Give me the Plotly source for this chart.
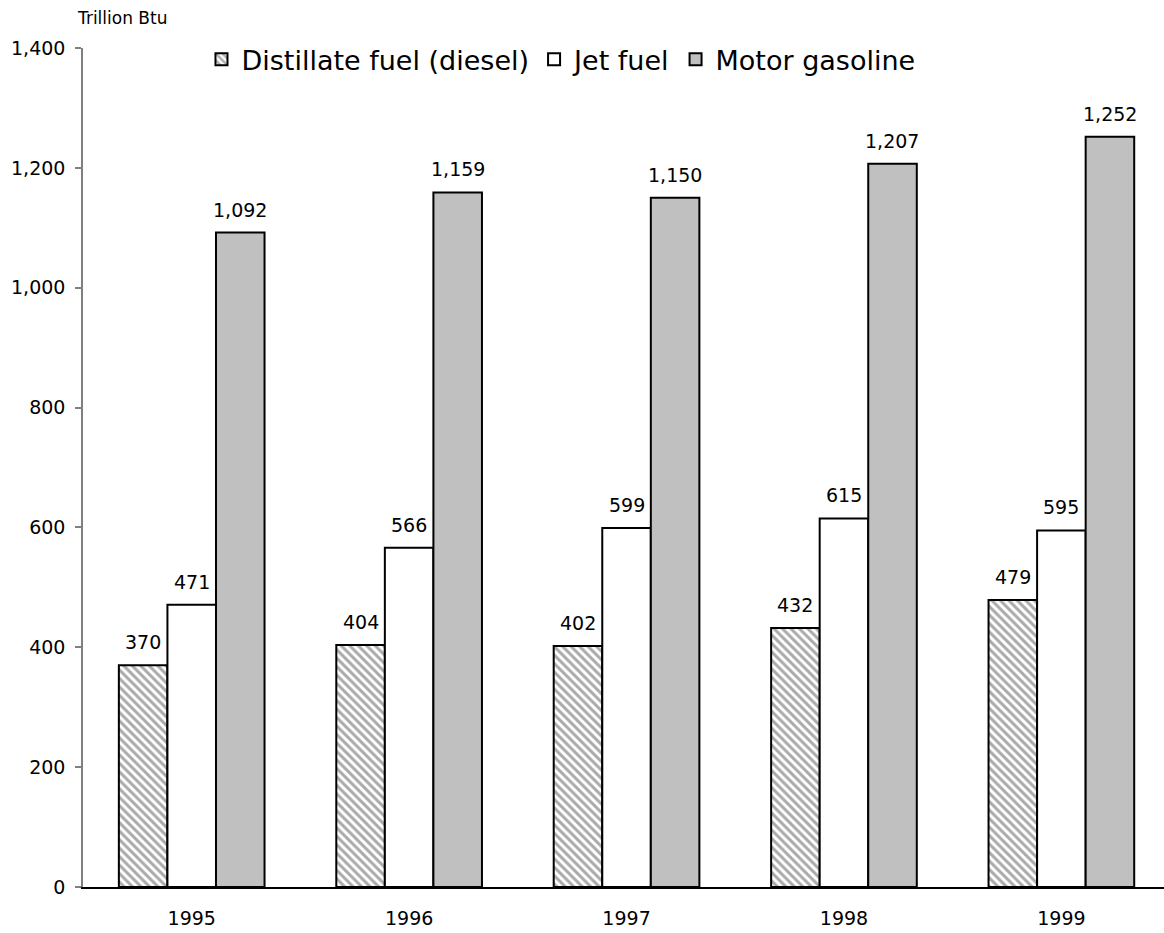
import plotly.graph_objects as go

years = ["1995", "1996", "1997", "1998", "1999"]
diesel = [370, 404, 402, 432, 479]
jet = [471, 566, 599, 615, 595]
gasoline = [1092, 1159, 1150, 1207, 1252]
series_names = ["Distillate fuel (diesel)", "Jet fuel", "Motor gasoline"]
y_ticks = [0, 200, 400, 600, 800, 1000, 1200, 1400]
y_tick_labels = ["0", "200", "400", "600", "800", "1,000", "1,200", "1,400"]

FONT = "DejaVu Sans, Verdana, sans-serif"
label_font = dict(family=FONT, size=19, color="#000000")

fig = go.Figure()
fig.add_trace(go.Bar(
    x=years, y=diesel, name=series_names[0],
    marker=dict(color="white", line=dict(color="black", width=2),
                pattern=dict(shape="\\", fgcolor="#555555", bgcolor="white", size=6, solidity=0.5)),
))
fig.add_trace(go.Bar(
    x=years, y=jet, name=series_names[1],
    marker=dict(color="white", line=dict(color="black", width=2)),
))
fig.add_trace(go.Bar(
    x=years, y=gasoline, name=series_names[2],
    marker=dict(color="#c0c0c0", line=dict(color="black", width=2)),
))

# value labels above bars
bar_px = 48.5
for vals, shift in ((diesel, -bar_px), (jet, 0), (gasoline, bar_px)):
    for i, v in enumerate(vals):
        fig.add_annotation(x=i, y=v, xref="x", yref="y", text=f"{v:,}",
                           showarrow=False, xshift=shift, yshift=10,
                           yanchor="bottom", xanchor="center", font=label_font)

fig.add_annotation(x=0, y=1, xref="paper", yref="paper", text="Trillion Btu",
                   showarrow=False, xanchor="left", yanchor="bottom",
                   xshift=-8, yshift=18,
                   font=dict(family=FONT, size=17, color="#000000"))

fig.update_layout(
    width=1164, height=933,
    margin=dict(l=83, r=0, t=48, b=46),
    paper_bgcolor="white", plot_bgcolor="white",
    barmode="group", bargap=0.33, bargroupgap=0,
    showlegend=True,
    legend=dict(orientation="h", x=0.1096, y=0.986, xanchor="left", yanchor="middle",
                font=dict(family=FONT, size=27, color="#000000"),
                itemwidth=30, bgcolor="rgba(0,0,0,0)", tracegroupgap=0),
    xaxis=dict(type="category", range=[-0.5, 4.472], showline=True, linecolor="black",
               linewidth=1.5, ticks="", showgrid=False, zeroline=False,
               tickfont=label_font, ticklabelstandoff=13),
    yaxis=dict(range=[0, 1400], tickvals=y_ticks, ticktext=y_tick_labels,
               showline=True, linecolor="#808080", linewidth=1.5,
               ticks="outside", ticklen=6, tickcolor="#808080", tickwidth=1.5,
               showgrid=False, zeroline=False, tickfont=label_font,
               ticklabelstandoff=6),
)

fig.write_html("out.html", config={"displayModeBar": False},
               post_script="document.body.style.margin='0';document.body.style.overflow='hidden';")
